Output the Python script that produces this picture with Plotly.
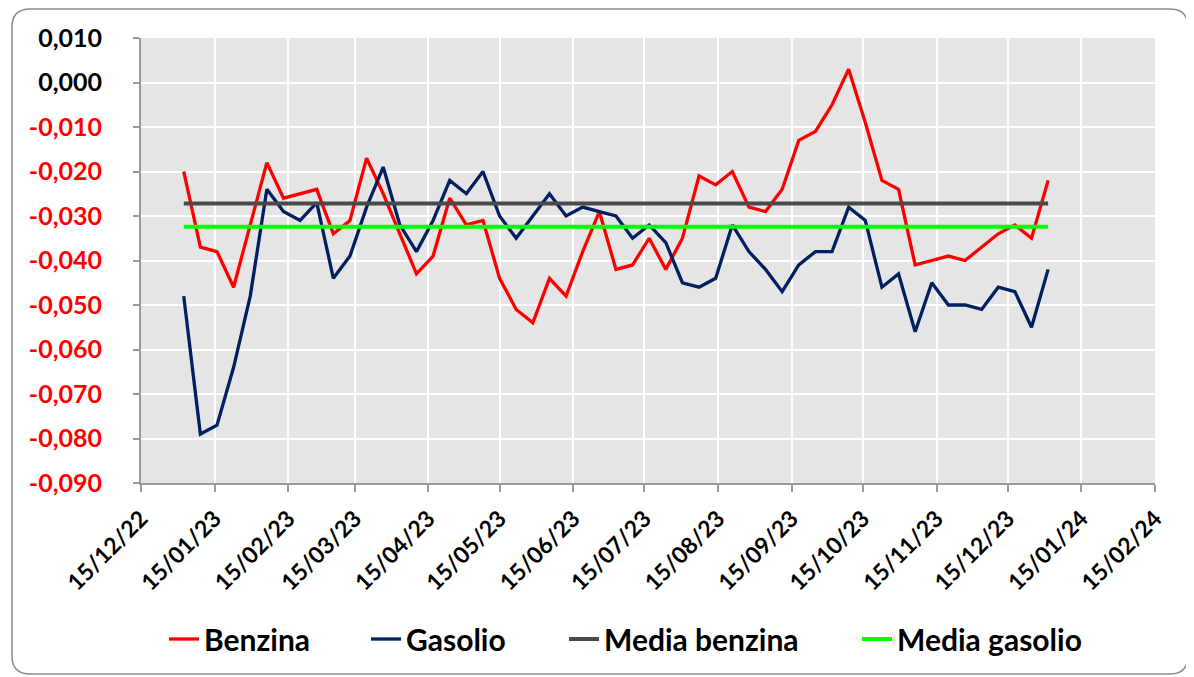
import plotly.graph_objects as go

# ---- data ----
dates = [
    "2023-01-02", "2023-01-09", "2023-01-16", "2023-01-23", "2023-01-30",
    "2023-02-06", "2023-02-13", "2023-02-20", "2023-02-27",
    "2023-03-06", "2023-03-13", "2023-03-20", "2023-03-27",
    "2023-04-03", "2023-04-10", "2023-04-17", "2023-04-24",
    "2023-05-01", "2023-05-08", "2023-05-15", "2023-05-22", "2023-05-29",
    "2023-06-05", "2023-06-12", "2023-06-19", "2023-06-26",
    "2023-07-03", "2023-07-10", "2023-07-17", "2023-07-24", "2023-07-31",
    "2023-08-07", "2023-08-14", "2023-08-21", "2023-08-28",
    "2023-09-04", "2023-09-11", "2023-09-18", "2023-09-25",
    "2023-10-02", "2023-10-09", "2023-10-16", "2023-10-23", "2023-10-30",
    "2023-11-06", "2023-11-13", "2023-11-20", "2023-11-27",
    "2023-12-04", "2023-12-11", "2023-12-18", "2023-12-25",
    "2024-01-01",
]

benzina = [
    -0.020, -0.037, -0.038, -0.046, -0.032,
    -0.018, -0.026, -0.025, -0.024,
    -0.034, -0.031, -0.017, -0.025,
    -0.034, -0.043, -0.039, -0.026,
    -0.032, -0.031, -0.044, -0.051, -0.054,
    -0.044, -0.048, -0.038, -0.029,
    -0.042, -0.041, -0.035, -0.042, -0.035,
    -0.021, -0.023, -0.020, -0.028,
    -0.029, -0.024, -0.013, -0.011,
    -0.005, 0.003, -0.009, -0.022, -0.024,
    -0.041, -0.040, -0.039, -0.040,
    -0.037, -0.034, -0.032, -0.035,
    -0.022,
]

gasolio = [
    -0.048, -0.079, -0.077, -0.064, -0.048,
    -0.024, -0.029, -0.031, -0.027,
    -0.044, -0.039, -0.028, -0.019,
    -0.032, -0.038, -0.031, -0.022,
    -0.025, -0.020, -0.030, -0.035, -0.030,
    -0.025, -0.030, -0.028, -0.029,
    -0.030, -0.035, -0.032, -0.036, -0.045,
    -0.046, -0.044, -0.032, -0.038,
    -0.042, -0.047, -0.041, -0.038,
    -0.038, -0.028, -0.031, -0.046, -0.043,
    -0.056, -0.045, -0.050, -0.050,
    -0.051, -0.046, -0.047, -0.055,
    -0.042,
]

media_benzina = -0.0272
media_gasolio = -0.0324

x_tick_dates = [
    "2022-12-15", "2023-01-15", "2023-02-15", "2023-03-15", "2023-04-15",
    "2023-05-15", "2023-06-15", "2023-07-15", "2023-08-15", "2023-09-15",
    "2023-10-15", "2023-11-15", "2023-12-15", "2024-01-15", "2024-02-15",
]
x_tick_labels = [
    "15/12/22", "15/01/23", "15/02/23", "15/03/23", "15/04/23",
    "15/05/23", "15/06/23", "15/07/23", "15/08/23", "15/09/23",
    "15/10/23", "15/11/23", "15/12/23", "15/01/24", "15/02/24",
]
y_tick_vals = [0.010, 0.000, -0.010, -0.020, -0.030, -0.040, -0.050, -0.060, -0.070, -0.080, -0.090]
y_tick_labels = ["0,010", "0,000", "-0,010", "-0,020", "-0,030", "-0,040",
                 "-0,050", "-0,060", "-0,070", "-0,080", "-0,090"]

# ---- styling ----
# the page body has an 8px margin, so the figure is 8px smaller than the window
W, H = 1186, 669
L, R, T, B = 133, 39, 30, 194
FONT = "Lato"

y_ticktext = [
    (f'<span style="color:#ff0000">{t}</span>' if v < 0 else t)
    for v, t in zip(y_tick_vals, y_tick_labels)
]

pw, ph = W - L - R, H - T - B
def px(x):
    return (x - L) / pw
def py(y):
    return (H - B - y) / ph

fig = go.Figure()
fig.add_trace(go.Scatter(x=dates, y=benzina, name="Benzina", mode="lines",
                         line=dict(color="#ff0000", width=3.3), legend="legend"))
fig.add_trace(go.Scatter(x=dates, y=gasolio, name="Gasolio", mode="lines",
                         line=dict(color="#002060", width=3.3), legend="legend2"))
fig.add_trace(go.Scatter(x=[dates[0], dates[-1]], y=[media_benzina, media_benzina],
                         name="Media benzina", mode="lines",
                         line=dict(color="#4a4a4a", width=4), legend="legend3"))
fig.add_trace(go.Scatter(x=[dates[0], dates[-1]], y=[media_gasolio, media_gasolio],
                         name="Media gasolio", mode="lines",
                         line=dict(color="#00ff00", width=4), legend="legend4"))

# rounded frame around the chart
fx0, fx1, fy0, fy1, rr = 4, 1180, 1, 666, 18
path = (
    f"M {px(fx0 + rr)},{py(fy0)} L {px(fx1 - rr)},{py(fy0)} "
    f"Q {px(fx1)},{py(fy0)} {px(fx1)},{py(fy0 + rr)} "
    f"L {px(fx1)},{py(fy1 - rr)} "
    f"Q {px(fx1)},{py(fy1)} {px(fx1 - rr)},{py(fy1)} "
    f"L {px(fx0 + rr)},{py(fy1)} "
    f"Q {px(fx0)},{py(fy1)} {px(fx0)},{py(fy1 - rr)} "
    f"L {px(fx0)},{py(fy0 + rr)} "
    f"Q {px(fx0)},{py(fy0)} {px(fx0 + rr)},{py(fy0)} Z"
)
fig.add_shape(type="path", path=path, xref="paper", yref="paper",
              line=dict(color="#8c8c8c", width=1.5), layer="above")

legend_font = dict(family=FONT, size=30, weight="bold", color="black")
def leg(text_x):
    return dict(orientation="h", x=px(text_x - 41), xanchor="left",
                y=py(631), yanchor="middle", font=legend_font,
                bgcolor="rgba(0,0,0,0)", borderwidth=0)

fig.update_layout(
    width=W, height=H,
    margin=dict(l=L, r=R, t=T, b=B, pad=0),
    paper_bgcolor="white",
    plot_bgcolor="#e5e5e5",
    font=dict(family=FONT, color="black"),
    showlegend=True,
    legend=leg(197),
    legend2=leg(399),
    legend3=leg(597),
    legend4=leg(890),
    xaxis=dict(
        type="date",
        range=["2022-12-15", "2024-02-15"],
        tickmode="array", tickvals=x_tick_dates, ticktext=x_tick_labels,
        tickangle=-45,
        tickfont=dict(family=FONT, size=23, weight="bold", color="black"),
        ticklabelstandoff=4,
        showgrid=True, gridcolor="white", gridwidth=2,
        showline=True, linecolor="#9a9a9a", linewidth=2,
        ticks="outside", ticklen=7, tickcolor="#9a9a9a", tickwidth=1.5,
        zeroline=False,
    ),
    yaxis=dict(
        range=[-0.090, 0.010],
        tickmode="array", tickvals=y_tick_vals, ticktext=y_ticktext,
        tickfont=dict(family=FONT, size=25, weight="bold", color="black"),
        ticklabelstandoff=26,
        showgrid=True, gridcolor="white", gridwidth=2,
        showline=True, linecolor="#9a9a9a", linewidth=2,
        ticks="outside", ticklen=6, tickcolor="#9a9a9a", tickwidth=1.5,
        zeroline=False,
    ),
)

fig.write_html("out.html")
